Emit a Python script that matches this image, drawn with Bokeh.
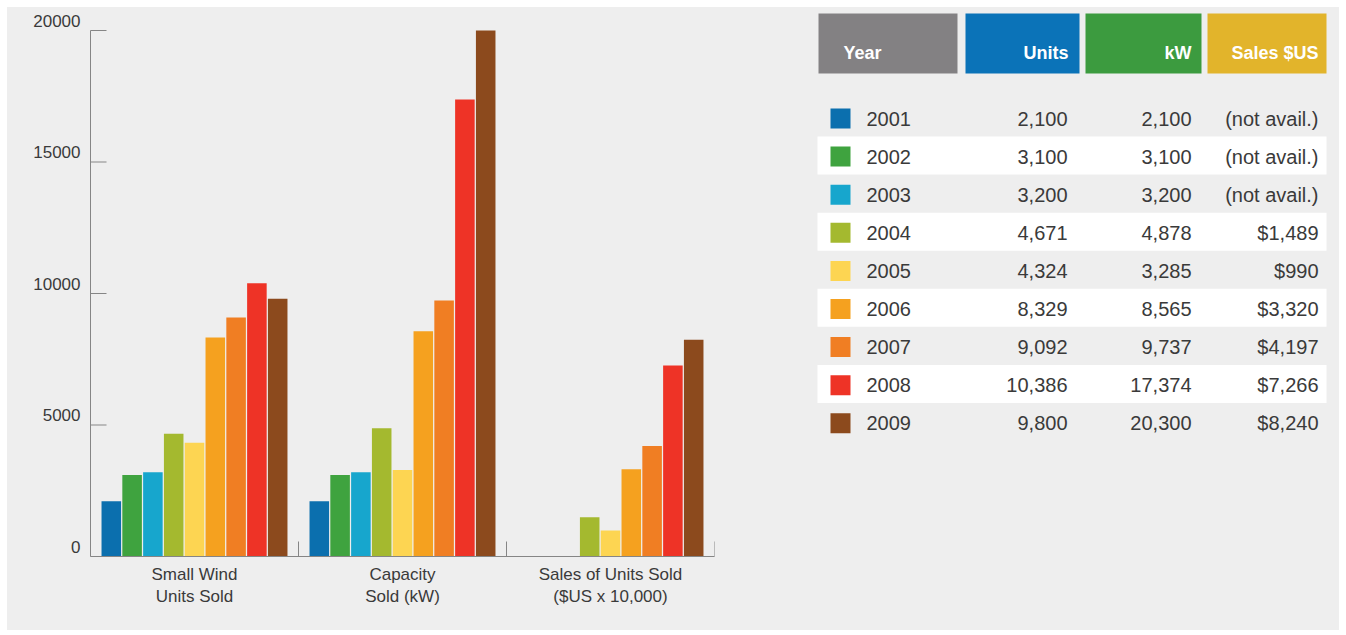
from bokeh.plotting import figure
from bokeh.layouts import row
from bokeh.models import Range1d, FixedTicker, LinearAxis, ColumnDataSource
from bokeh.embed import file_html
from bokeh.resources import INLINE
from bokeh.core.properties import value

# ---------------- data ----------------
years = ["2001", "2002", "2003", "2004", "2005", "2006", "2007", "2008", "2009"]
units = [2100, 3100, 3200, 4671, 4324, 8329, 9092, 10386, 9800]
kw = [2100, 3100, 3200, 4878, 3285, 8565, 9737, 17374, 20300]
sales = [None, None, None, 1489, 990, 3320, 4197, 7266, 8240]
groups = ["Small Wind\nUnits Sold", "Capacity\nSold (kW)", "Sales of Units Sold\n($US x 10,000)"]
year_colors = ["#0b6fae", "#3fa33f", "#17a6cd", "#a4b92f", "#fdd552",
               "#f5a11f", "#f07e23", "#ee3326", "#8c4a1d"]
y_ticks = [0, 5000, 10000, 15000, 20000]
headers = ["Year", "Units", "kW", "Sales $US"]
header_colors = ["#838183", "#0b73b8", "#3c9b3f", "#e2b42b"]

# ---------------- styles ----------------
BG = "#eeeeee"
FONT = "Liberation Sans"
TXT = "#3a3a3a"
AX = "#858585"
Y_MAX = 20000
SLOT = 0.1
BAR_W = 0.094
FIG_H = 623
FRAME_BOTTOM = 549      # px from figure top where value 0 sits
TOP_TICK = 23           # px from figure top where Y_MAX sits
BORDER_BOTTOM = FIG_H - FRAME_BOTTOM
LABEL_LIFT_PX = 10      # tick labels sit a little above their ticks
TICK_LEN = 16

series = [units, kw, sales]

# ---------------- chart ----------------
y_top = Y_MAX * FRAME_BOTTOM / (FRAME_BOTTOM - TOP_TICK)
X0 = -0.5
p = figure(width=800, height=FIG_H, x_range=Range1d(X0, 2.5), y_range=Range1d(0, y_top),
           output_backend="svg", toolbar_location=None,
           min_border_left=83, min_border_right=93, min_border_top=0,
           min_border_bottom=BORDER_BOTTOM,
           background_fill_color=BG, border_fill_color=BG, outline_line_color=None,
           x_axis_type=None, y_axis_type=None)
p.xgrid.visible = False
p.ygrid.visible = False

bx, btop, bcol = [], [], []
for g, vals in enumerate(series):
    for i, v in enumerate(vals):
        if v is None:
            continue
        bx.append(g + (i - 4) * SLOT)
        btop.append(min(v, Y_MAX))   # chart clips at the axis maximum
        bcol.append(year_colors[i])
src = ColumnDataSource(dict(x=bx, top=btop, color=bcol))
p.vbar(x="x", top="top", bottom=0, width=BAR_W, fill_color="color", line_color=None, source=src)

# group separators
bounds = [g + 0.5 for g in range(len(groups))]
p.rect(x=bounds, y=[0] * len(bounds), width=1, height=30, width_units="screen",
       height_units="screen", fill_color=AX, line_color=None)

# inward y ticks (half of each rect is clipped by the frame edge)
p.rect(x=[X0] * len(y_ticks), y=y_ticks, width=2 * TICK_LEN, height=1, width_units="screen",
       height_units="screen", fill_color=AX, line_color=None)

# y axis: labels lifted slightly above the ticks, axis line bounded to 0..Y_MAX
lift = LABEL_LIFT_PX * y_top / FRAME_BOTTOM
p.extra_y_ranges = {"lab": Range1d(-lift, y_top - lift)}
ylab = LinearAxis(y_range_name="lab", ticker=FixedTicker(ticks=y_ticks, minor_ticks=[]),
                  bounds=(-lift, Y_MAX - lift),
                  major_tick_in=0, major_tick_out=0, minor_tick_in=0, minor_tick_out=0,
                  axis_line_color=AX, major_tick_line_color=None,
                  major_label_text_font=FONT, major_label_text_font_size="17px",
                  major_label_text_color=TXT, major_label_standoff=10)
p.add_layout(ylab, "left")

xaxis = LinearAxis(ticker=FixedTicker(ticks=list(range(len(groups))), minor_ticks=[]),
                   major_label_overrides={g: lab for g, lab in enumerate(groups)},
                   major_tick_in=0, major_tick_out=0, minor_tick_in=0, minor_tick_out=0,
                   axis_line_color=AX, major_label_text_font=FONT,
                   major_label_text_font_size="17px", major_label_text_color=TXT,
                   major_label_standoff=8, major_label_text_line_height=1.2)
p.add_layout(xaxis, "below")

# ---------------- table ----------------
PITCH = 38.1
TOP = 111
TW = 532
t = figure(width=TW, height=FIG_H, x_range=Range1d(0, TW),
           y_range=Range1d((FRAME_BOTTOM - TOP) / PITCH, -TOP / PITCH),
           output_backend="svg", toolbar_location=None,
           min_border_left=0, min_border_right=0, min_border_top=0,
           min_border_bottom=BORDER_BOTTOM,
           background_fill_color=BG, border_fill_color=BG, outline_line_color=None,
           x_axis_type=None, y_axis_type=None)
t.xgrid.visible = False
t.ygrid.visible = False

box_left = [11, 158, 278, 400]
box_right = [150, 272, 394, 519]
hdr_y = (36 - TOP) / PITCH
hdr_txt_y = (45 - TOP) / PITCH
t.rect(x=[(a + b) / 2 for a, b in zip(box_left, box_right)], y=[hdr_y] * 4,
       width=[b - a for a, b in zip(box_left, box_right)], height=60, height_units="screen",
       fill_color=header_colors, line_color=None)
hdr_x = [36, 261, 384, 511]
hdr_align = ["left", "right", "right", "right"]
for j, h in enumerate(headers):
    t.text(x=[hdr_x[j]], y=[hdr_txt_y], text=[h], text_font=value(FONT),
           text_font_size="18px", text_font_style="bold", text_color="white",
           text_align=hdr_align[j], text_baseline="middle")

rows_idx = list(range(len(years)))
odd = [i for i in rows_idx if i % 2 == 1]
t.rect(x=[264.5] * len(odd), y=[i - 0.03 for i in odd], width=509, height=38,
       height_units="screen", fill_color="white", line_color=None)

t.rect(x=[33] * len(years), y=rows_idx, width=20, height=20, width_units="screen",
       height_units="screen", fill_color=year_colors, line_color=None)

col_text = [
    (59, "left", years),
    (260, "right", [f"{v:,}" for v in units]),
    (384, "right", [f"{v:,}" for v in kw]),
    (511, "right", ["(not avail.)" if v is None else f"${v:,}" for v in sales]),
]
for cx, al, texts in col_text:
    t.text(x=[cx] * len(texts), y=rows_idx, text=texts, text_font=value(FONT),
           text_font_size="20px", text_color=TXT, text_align=al, text_baseline="middle")

layout = row(p, t, margin=(7, 7, 7, 7), styles={"background-color": BG})
open("out.html", "w").write(file_html(layout, INLINE))
